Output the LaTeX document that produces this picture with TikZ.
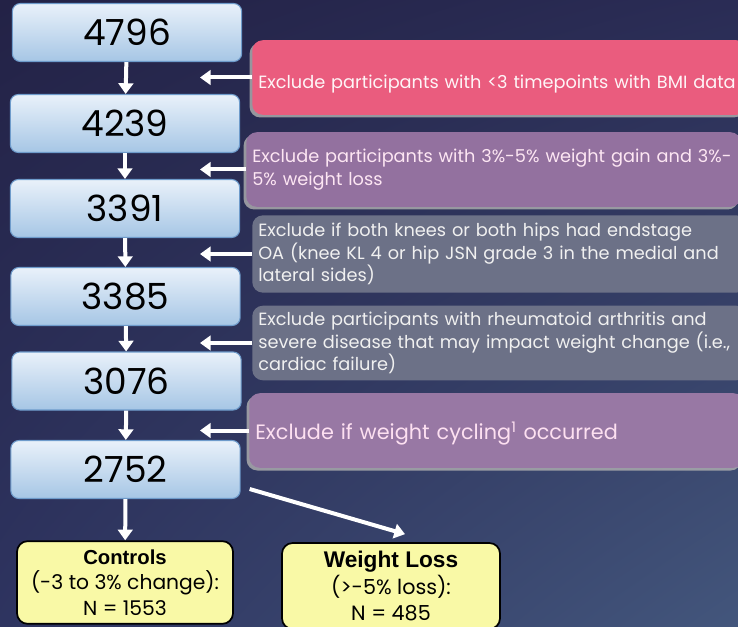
\documentclass[tikz,border=0pt]{standalone}
\usepackage{fontspec}
\setmainfont{Poppins}
\newfontfamily\headfont{Liberation Sans}
\usetikzlibrary{arrows.meta,shadows,shadings}

\definecolor{bgul}{HTML}{232246}
\definecolor{bgur}{HTML}{2A2C55}
\definecolor{bgll}{HTML}{2E3460}
\definecolor{bglr}{HTML}{43567C}
\definecolor{numtop}{HTML}{E9F1FA}
\definecolor{numbot}{HTML}{A6C6E5}
\definecolor{numedge}{HTML}{6E9BCB}
\definecolor{exred}{HTML}{EA5C7E}
\definecolor{expurple}{HTML}{93719F}
\definecolor{exgrey}{HTML}{6C7187}
\definecolor{outyellow}{HTML}{F9F9A6}

\tikzset{
  numbox/.style={draw=numedge, line width=0.8pt, rounded corners=6pt,
    top color=numtop, bottom color=numbot,
    minimum width=172pt, minimum height=43.5pt,
    font=\fontsize{27}{30}\selectfont},
  exclbox/.style={rounded corners=8pt, text width=362pt, inner xsep=4.5pt,
    minimum height=56pt, align=left, anchor=west,
    font=\fontsize{13.3}{16.8}\selectfont},
  exshadow/.style={drop shadow={shadow xshift=-2pt, shadow yshift=-2pt,
    fill=gray!60, opacity=0.8}},
  outbox/.style={draw=black, line width=1.3pt, fill=outyellow,
    rounded corners=8pt, minimum width=162pt, minimum height=62pt,
    align=center, font=\fontsize{15.2}{19}\selectfont},
  arr/.style={draw=white, line width=3pt, -{Triangle[width=11pt,length=8pt]}}
}

\begin{document}
\begin{tikzpicture}[x=0.75pt, y=-0.75pt]
  % background
  \useasboundingbox (0,0) rectangle (738,627);
  \shade[upper left=bgul, upper right=bgur, lower left=bgll, lower right=bglr]
    (0,0) rectangle (738,627);

  % counts
  \node[numbox] (n4796) at (127,32.5) {4796};
  \node[numbox] (n4239) at (125,123.5) {4239};
  \node[numbox] (n3391) at (125,208.5) {3391};
  \node[numbox] (n3385) at (125.5,296.5) {3385};
  \node[numbox] (n3076) at (126.5,381) {3076};
  \node[numbox] (n2752) at (125.5,469.5) {2752};

  % exclusions
  \node[exclbox, exshadow, fill=exred, text=white!85!exred!40!white] (exbmi) at (252,77.5)
    {\raisebox{-8.5pt}[0pt][0pt]{Exclude participants with <3 timepoints with BMI data}};
  \node[exclbox, exshadow, fill=expurple, text=white!90!magenta] (exgain) at (246,169.5)
    {Exclude participants with 3\%-5\% weight gain and 3\%-\\5\% weight loss};
  \node[exclbox, fill=exgrey, text=white!94!black, minimum height=58pt] (exknee) at (252,254)
    {Exclude if both knees or both hips had endstage\\OA (knee KL 4 or hip JSN grade 3 in the medial and\\lateral sides)};
  \node[exclbox, fill=exgrey, text=white!94!black] (exra) at (252,343)
    {Exclude participants with rheumatoid arthritis and\\severe disease that may impact weight change (i.e.,\\cardiac failure)};
  \node[exclbox, exshadow, fill=expurple!95!white, text=white!88!magenta,
        font=\fontsize{15.6}{18}\selectfont] (excyc) at (249,430.5)
    {\raisebox{-6.5pt}[0pt][0pt]{Exclude if weight cycling\textsuperscript{1} occurred}};

  % groups
  \node[outbox] (ctrl) at (125,582.5)
    {{\headfont\bfseries Controls}\\(-3 to 3\% change):\\N = 1553};
  \node[outbox, minimum width=163.5pt, minimum height=64.5pt,
        font=\fontsize{15.5}{20}\selectfont] (wloss) at (391,586)
    {{\headfont\bfseries\fontsize{17}{20}\selectfont Weight Loss}\\(>-5\% loss):\\N = 485};

  % flow
  \draw[arr] (n4796) -- (n4239);
  \draw[arr] (n4239) -- (n3391);
  \draw[arr] (n3391) -- (n3385);
  \draw[arr] (n3385) -- (n3076);
  \draw[arr] (n3076) -- (n2752);
  \draw[arr] (n2752) -- (ctrl);
  \draw[arr] ([xshift=6.75pt,yshift=7.5pt]n2752.south east) -- ([xshift=10.5pt,yshift=6pt]wloss.north);

  \draw[arr] (exbmi.west) -- ([xshift=-39pt]exbmi.west);
  \draw[arr] (exgain.west) -- ([xshift=-34.5pt]exgain.west);
  \draw[arr] (exknee.west) -- ([xshift=-39pt]exknee.west);
  \draw[arr] (exra.west) -- ([xshift=-39pt]exra.west);
  \draw[arr] (excyc.west) -- ([xshift=-36.75pt]excyc.west);
\end{tikzpicture}
\end{document}
